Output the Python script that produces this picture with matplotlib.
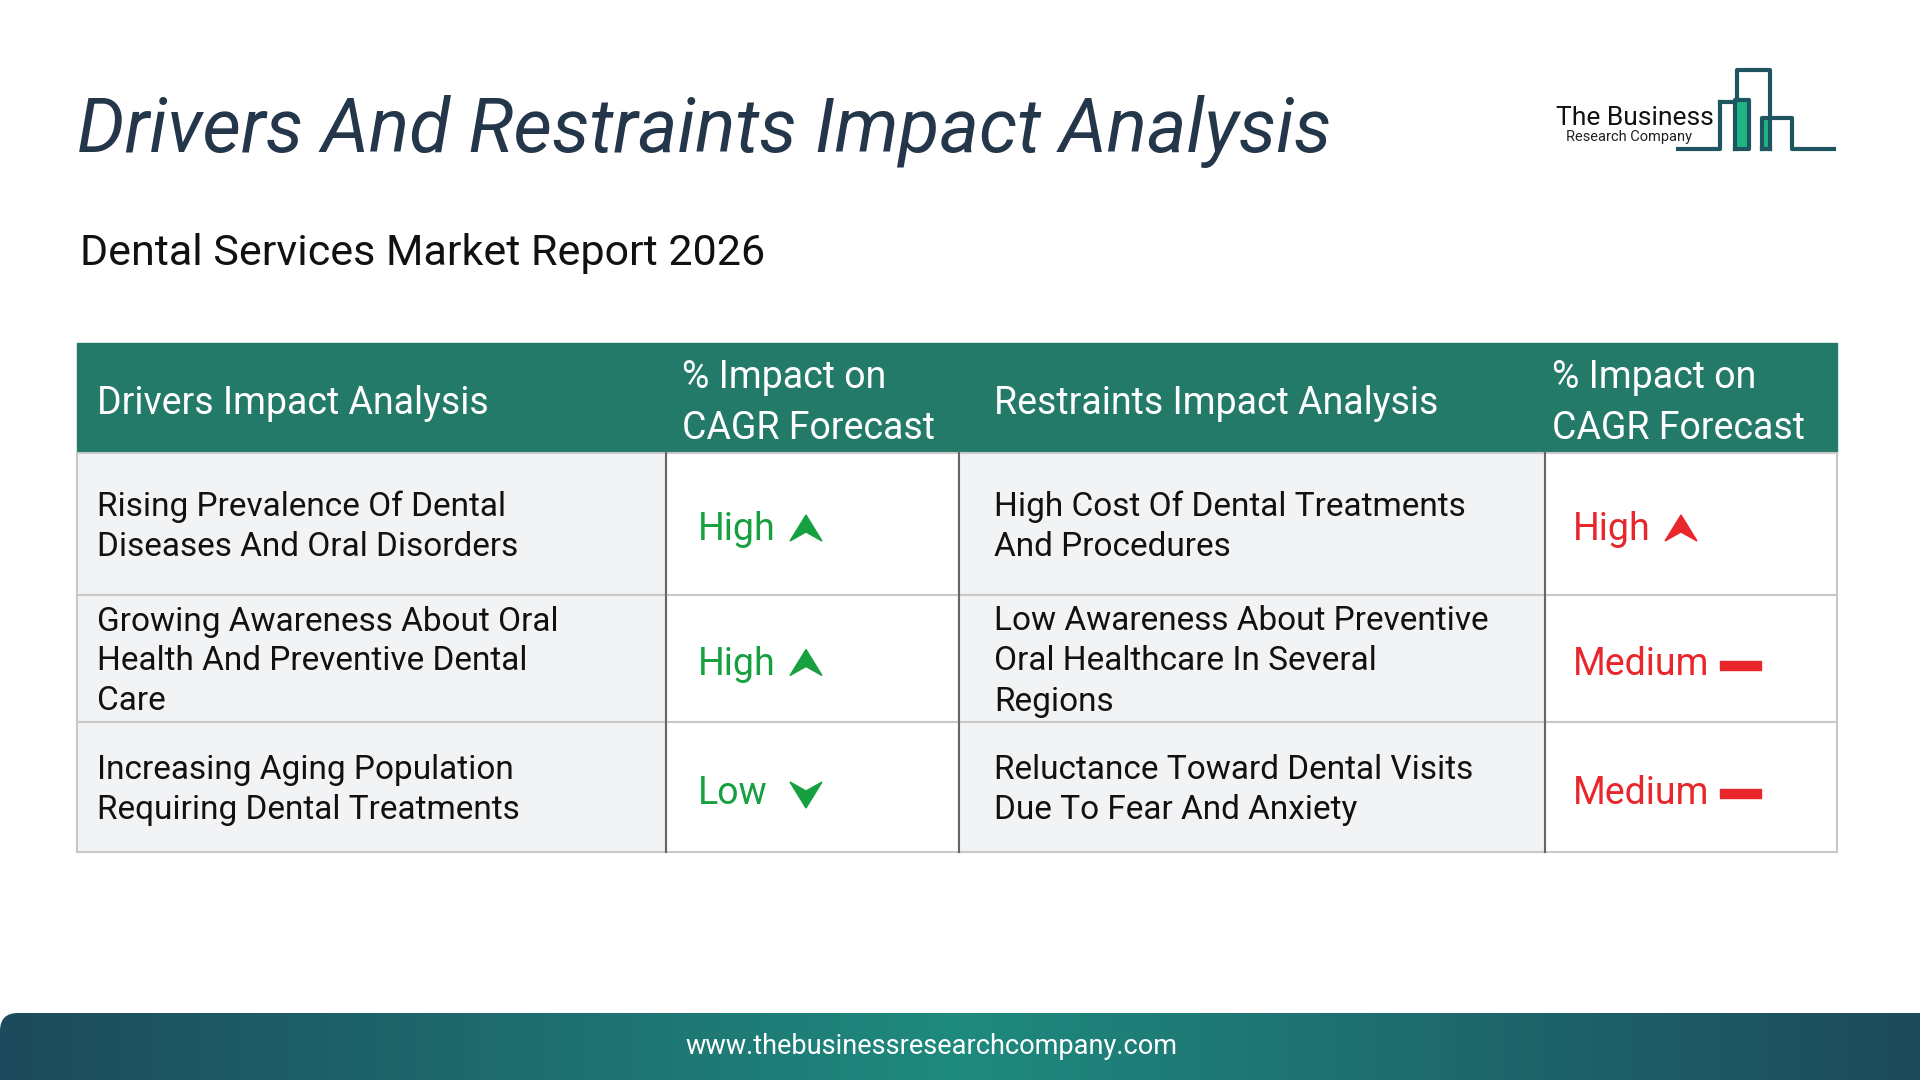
import matplotlib
matplotlib.use("Agg")
import matplotlib.pyplot as plt
import numpy as np
from matplotlib.patches import Rectangle, Polygon, FancyBboxPatch

title = "Drivers And Restraints Impact Analysis"
subtitle = "Dental Services Market Report 2026"
headers = ["Drivers Impact Analysis", "% Impact on\nCAGR Forecast", "Restraints Impact Analysis", "% Impact on\nCAGR Forecast"]
drivers = ["Rising Prevalence Of Dental\nDiseases And Oral Disorders",
           "Growing Awareness About Oral\nHealth And Preventive Dental\nCare",
           "Increasing Aging Population\nRequiring Dental Treatments"]
driver_impact = ["High", "High", "Low"]
restraints = ["High Cost Of Dental Treatments\nAnd Procedures",
              "Low Awareness About Preventive\nOral Healthcare In Several\nRegions",
              "Reluctance Toward Dental Visits\nDue To Fear And Anxiety"]
restraint_impact = ["High", "Medium", "Medium"]
footer = "www.thebusinessresearchcompany.com"

plt.rcParams['font.family'] = ['Roboto', 'DejaVu Sans']
fig = plt.figure(figsize=(19.2, 10.8), dpi=100)
ax = fig.add_axes([0, 0, 1, 1])
ax.set_xlim(0, 1920); ax.set_ylim(1080, 0); ax.axis('off')

TEAL = '#247a69'; GREEN = '#17a040'; RED = '#e8262b'; GRAY = '#f2f3f5'; LINE = '#c8c8c8'
ax.text(77, 131, title, fontsize=54, style='italic', color='#24364a', va='center')
ax.text(80, 253, subtitle, fontsize=31, color='#111111', va='center')

# logo
lc = '#1f5560'
ax.text(1556, 118, "The Business", fontsize=19, color='#111', va='center')
ax.text(1566, 137, "Research Company", fontsize=10.5, color='#222', va='center')
ax.plot([1678, 1720, 1720], [149, 149, 102], color=lc, lw=3)
ax.add_patch(Rectangle((1736, 100), 12, 49, color='#1fb584'))
ax.plot([1735, 1749, 1749, 1735, 1735], [149, 149, 100, 100, 149], color=lc, lw=3)
ax.plot([1720, 1735], [102, 102], color=lc, lw=3)
ax.plot([1737, 1737, 1770, 1770], [100, 70, 70, 149], color=lc, lw=3)
ax.add_patch(Rectangle((1762, 118), 6, 31, color='#1fb584'))
ax.plot([1762, 1762, 1792, 1792, 1834], [149, 118, 118, 149, 149], color=lc, lw=3)
ax.plot([1762, 1770], [149, 149], color=lc, lw=3)

xs = [77, 666, 959, 1545, 1837]
ys = [343, 453, 595, 722, 852]
ax.add_patch(Rectangle((xs[0], ys[0]), xs[-1]-xs[0], ys[1]-ys[0], color=TEAL))
hx = [97, 682, 994, 1552]
for i, h in enumerate(headers):
    ax.text(hx[i], (ys[0]+ys[1])/2 + 5, h, fontsize=27, color='white', va='center', linespacing=1.5)
for r in range(3):
    y0, y1 = ys[r+1], ys[r+2]
    yc = (y0 + y1) / 2
    for c in range(4):
        ax.add_patch(Rectangle((xs[c], y0), xs[c+1]-xs[c], y1-y0,
                               facecolor=GRAY if c % 2 == 0 else 'white', edgecolor=LINE, lw=1.5))
    ax.text(97, yc + 3, drivers[r], fontsize=24, color='#111', va='center', linespacing=1.32)
    ax.text(994, yc + 3, restraints[r], fontsize=24, color='#111', va='center', linespacing=1.32)
    for val, tx, col in [(driver_impact[r], 698, GREEN), (restraint_impact[r], 1573, RED)]:
        yy = yc + 6
        ax.text(tx, yy, val, fontsize=27, color=col, va='center')
        ix = tx + (108 if val != 'Medium' else 153)
        if val == 'High':
            ax.add_patch(Polygon([[ix-16, yy+11], [ix, yy-15], [ix+16, yy+11], [ix, yy+2]], color=col))
        elif val == 'Low':
            ax.add_patch(Polygon([[ix-16, yy-11], [ix, yy+15], [ix+16, yy-11], [ix, yy-2]], color=col))
        else:
            ax.add_patch(Rectangle((ix-6, yy-4), 41, 9, color=col))
for x in [xs[1], xs[2], xs[3]]:
    ax.plot([x, x], [ys[1], ys[-1]], color='#666', lw=1.5)

# footer gradient
grad = np.linspace(0, 1, 256)
cmap = matplotlib.colors.LinearSegmentedColormap.from_list('f', ['#1d4a5c', '#1f8a7e', '#1d4a5c'])
im = ax.imshow(grad[None, :], extent=[0, 1920, 1080, 1013], cmap=cmap, aspect='auto', zorder=1)
clip = FancyBboxPatch((0, 1013), 1940, 100, boxstyle='round,pad=0,rounding_size=18', transform=ax.transData, facecolor='none', edgecolor='none')
ax.add_patch(clip); im.set_clip_path(clip)
ax.set_xlim(0, 1920); ax.set_ylim(1080, 0)
ax.text(931, 1047, footer, fontsize=19.5, color='white', ha='center', va='center', zorder=2)
fig.savefig('out.png', dpi=100)
